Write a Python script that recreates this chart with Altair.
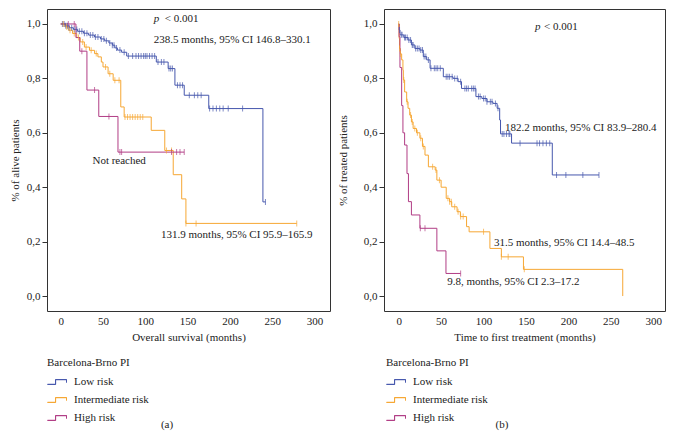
import altair as alt
import pandas as pd
import numpy as np

SERIF = "Liberation Serif"
groups = ["Low risk", "Intermediate risk", "High risk"]
colors = ["#4657ad", "#f6a733", "#b13d85"]

# ---------- Panel (a): overall survival ----------
os_low_t = [0, 6, 10, 15, 20, 27, 33, 40, 47, 52, 57, 61, 64, 67, 72, 78, 113, 127, 135, 146, 175, 239, 242]
os_low_s = [1.0, 0.993, 0.986, 0.98, 0.973, 0.966, 0.959, 0.952, 0.945, 0.938, 0.93, 0.922, 0.912, 0.904, 0.896, 0.882, 0.86, 0.836, 0.775, 0.738, 0.689, 0.346, 0.346]
os_low_c = [2, 4, 6, 8, 10, 13, 16, 19, 22, 25, 28, 31, 35, 38, 41, 44, 48, 51, 54, 58, 61, 63, 66, 70, 75,
            80, 85, 89, 92, 95, 98, 100, 102, 105, 108, 111, 115, 119, 122, 128, 130, 132, 138, 141, 144,
            152, 158, 162, 166, 176, 180, 184, 188, 192, 198, 215, 242]

os_int_t = [0, 5, 9, 14, 19, 23, 28, 34, 40, 44, 48, 50, 56, 62, 71, 75, 107, 123, 133, 143, 148, 279]
os_int_s = [1.0, 0.99, 0.977, 0.965, 0.95, 0.934, 0.915, 0.903, 0.891, 0.879, 0.86, 0.842, 0.817, 0.793, 0.695, 0.658, 0.609, 0.535, 0.446, 0.357, 0.267, 0.267]
os_int_c = [3, 7, 11, 16, 21, 26, 30, 36, 42, 53, 58, 64, 69, 76, 79, 82, 85, 88, 91, 94, 97, 125, 131, 148, 160, 279]

os_high_t = [0, 18, 22.5, 31, 45, 67.7, 146]
os_high_s = [1.0, 0.95, 0.9, 0.757, 0.66, 0.529, 0.529]
os_high_c = [9, 16, 25, 40, 57, 70, 72, 131, 137, 141, 146]

# ---------- Panel (b): time to first treatment ----------
tt_low_t = [0, 0.5, 1.5, 6, 11, 15, 19, 25, 29, 33, 37, 52.6, 64, 70, 74, 91, 98, 104, 111, 116, 119, 120, 133, 181, 236]
tt_low_s = [1.0, 0.978, 0.96, 0.95, 0.941, 0.923, 0.91, 0.904, 0.88, 0.868, 0.837, 0.806, 0.80, 0.788, 0.763, 0.733, 0.726, 0.714, 0.708, 0.69, 0.647, 0.596, 0.562, 0.445, 0.445]
tt_low_c = [1, 3, 4, 7, 8, 10, 12, 14, 16, 17, 20, 22, 24, 26, 28, 30, 32, 35, 38, 42, 44, 46, 49, 56, 58,
            60, 63, 66, 69, 73, 78, 80, 82, 86, 88, 90, 94, 96, 100, 102, 104, 108, 110, 114, 117, 122,
            124, 127, 130, 131, 143, 163, 166, 170, 174, 178, 186, 197, 217, 236]

tt_int_t = [0, 0.5, 1, 2, 3.5, 5, 5.5, 7, 9.4, 11, 13, 15, 17, 21, 25, 28, 31, 35, 43, 45, 50, 56, 60, 62.5, 68.8, 72.7, 80, 83, 107.5, 121, 147, 264, 264.01]
tt_int_s = [1.0, 0.947, 0.91, 0.89, 0.868, 0.83, 0.794, 0.75, 0.714, 0.69, 0.665, 0.64, 0.616, 0.6, 0.58, 0.55, 0.518, 0.475, 0.463, 0.426, 0.40, 0.359, 0.347, 0.328, 0.31, 0.292, 0.255, 0.236, 0.175, 0.144, 0.098, 0.0, 0.0]
tt_int_c = [0, 1, 2, 6, 10, 14, 16, 19, 22, 26, 29, 40, 44, 48, 58, 60, 62, 66, 70, 73, 76, 100, 121, 129, 148]

tt_high_t = [0, 0.5, 1.5, 3.5, 5, 7, 9.8, 11.5, 15, 25, 45, 55.7, 73]
tt_high_s = [1.0, 0.953, 0.84, 0.70, 0.60, 0.555, 0.45, 0.347, 0.298, 0.249, 0.166, 0.083, 0.083]
tt_high_c = [25.5, 31, 73]


def curves_df(ts, ss):
    rows = []
    for g, t, s in zip(groups, ts, ss):
        for i, (a, b) in enumerate(zip(t, s)):
            rows.append({"group": g, "t": a, "s": b, "i": i})
    return pd.DataFrame(rows)


def censor_df(ts, ss, cs):
    rows = []
    for g, t, s, c in zip(groups, ts, ss, cs):
        t = np.asarray(t)
        for v in c:
            k = int(np.searchsorted(t, v, side="right")) - 1
            rows.append({"group": g, "t": v, "s": s[max(k, 0)]})
    return pd.DataFrame(rows)


# step-shaped legend glyph, traced forward and back so it has no filled area
STEP_GLYPH = "M-1,0.25H-0.15V-0.25H1V0.05V-0.25H-0.15V0.25Z"


def panel(ts, ss, cs, xdom, width, xtitle, ytitle, ytpad, texts, ptext, caption, cap_x, leg_x):
    xs = alt.Scale(domain=xdom, nice=False, zero=False)
    ys = alt.Scale(domain=[-0.055, 1.055], nice=False, zero=False)
    cs_scale = alt.Scale(domain=groups, range=colors)
    xax = alt.Axis(values=[0, 50, 100, 150, 200, 250, 300], title=xtitle, ticks=False,
                   grid=False, domain=False, labelPadding=4, titlePadding=5)
    yax = alt.Axis(values=[0, 0.2, 0.4, 0.6, 0.8, 1.0], title=ytitle, tickSize=5,
                   grid=False, domain=False, labelPadding=2, titlePadding=ytpad,
                   labelExpr="replace(format(datum.value, '.1f'), '.', ',')")
    leg = alt.Legend(orient="none", legendX=leg_x, legendY=348, title="Barcelona-Brno PI",
                     symbolType=STEP_GLYPH, symbolSize=361, symbolStrokeWidth=1,
                     symbolFillColor="transparent", symbolOpacity=1,
                     labelOffset=7, rowPadding=3, titlePadding=4, padding=0)
    lines = alt.Chart(curves_df(ts, ss)).mark_line(interpolate="step-after", strokeWidth=1).encode(
        x=alt.X("t:Q", scale=xs, axis=xax),
        y=alt.Y("s:Q", scale=ys, axis=yax),
        color=alt.Color("group:N", scale=cs_scale, legend=leg),
        order="i:Q",
    )
    ticks = alt.Chart(censor_df(ts, ss, cs)).mark_tick(orient="vertical", size=6, thickness=1).encode(
        x=alt.X("t:Q", scale=xs),
        y=alt.Y("s:Q", scale=ys),
        color=alt.Color("group:N", scale=cs_scale, legend=None),
    )
    tdf = pd.DataFrame(texts, columns=["t", "s", "label"])
    txt = alt.Chart(tdf).mark_text(align="left", baseline="middle", font=SERIF, fontSize=11,
                                   color="#222").encode(
        x=alt.X("t:Q", scale=xs), y=alt.Y("s:Q", scale=ys), text="label:N")
    pdf = pd.DataFrame([ptext], columns=["t", "s", "label"])
    ptxt = alt.Chart(pdf).mark_text(align="left", baseline="middle", font=SERIF, fontSize=11,
                                    fontStyle="italic", color="#222").encode(
        x=alt.X("t:Q", scale=xs), y=alt.Y("s:Q", scale=ys), text="label:N")
    cap = alt.Chart(pd.DataFrame({"c": [caption]})).mark_text(
        font=SERIF, fontSize=11, color="#222", baseline="middle").encode(
        text="c:N", x=alt.value(cap_x), y=alt.value(416))
    return alt.layer(lines, ticks, txt, ptxt, cap).properties(width=width, height=302)


left = panel(
    [os_low_t, os_int_t, os_high_t], [os_low_s, os_int_s, os_high_s], [os_low_c, os_int_c, os_high_c],
    [-16.2, 318.3], 283, "Overall survival (months)", "% of alive patients", 6,
    [(123, 1.019, "< 0.001"),
     (110, 0.942, "238.5 months, 95% CI 146.8\u2013330.1"),
     (37.5, 0.495, "Not reached"),
     (118.6, 0.223, "131.9 months, 95% CI 95.9\u2013165.9")],
    (110, 1.019, "p"),
    "(a)", 120, 0)

right = panel(
    [tt_low_t, tt_int_t, tt_high_t], [tt_low_s, tt_int_s, tt_high_s], [tt_low_c, tt_int_c, tt_high_c],
    [-17.3, 313.8], 281, "Time to first treatment (months)", "% of treated patients", 15,
    [(171.2, 0.9875, "< 0.001"),
     (125.2, 0.616, "182.2 months, 95% CI 83.9\u2013280.4"),
     (112.3, 0.196, "31.5 months, 95% CI 14.4\u201348.5"),
     (57.3, 0.05, "9.8, months, 95% CI 2.3\u201317.2")],
    (160.6, 0.9875, "p"),
    "(b)", 118, 2)

chart = alt.hconcat(left, right, spacing=5).resolve_scale(color="independent").properties(
    padding={"left": 0, "top": 0, "right": 0, "bottom": 0}
).configure(font=SERIF).configure_view(stroke="#333", strokeWidth=1).configure_axis(
    labelFont=SERIF, labelFontSize=11, labelColor="#222", titleFont=SERIF, titleFontSize=11,
    titleFontWeight="normal", titleColor="#222", tickColor="#333"
).configure_legend(
    labelFont=SERIF, labelFontSize=11, labelColor="#222", titleFont=SERIF, titleFontSize=11,
    titleFontWeight="normal", titleColor="#222"
)

chart.save("out.html", embed_options={"renderer": "svg", "actions": False})
